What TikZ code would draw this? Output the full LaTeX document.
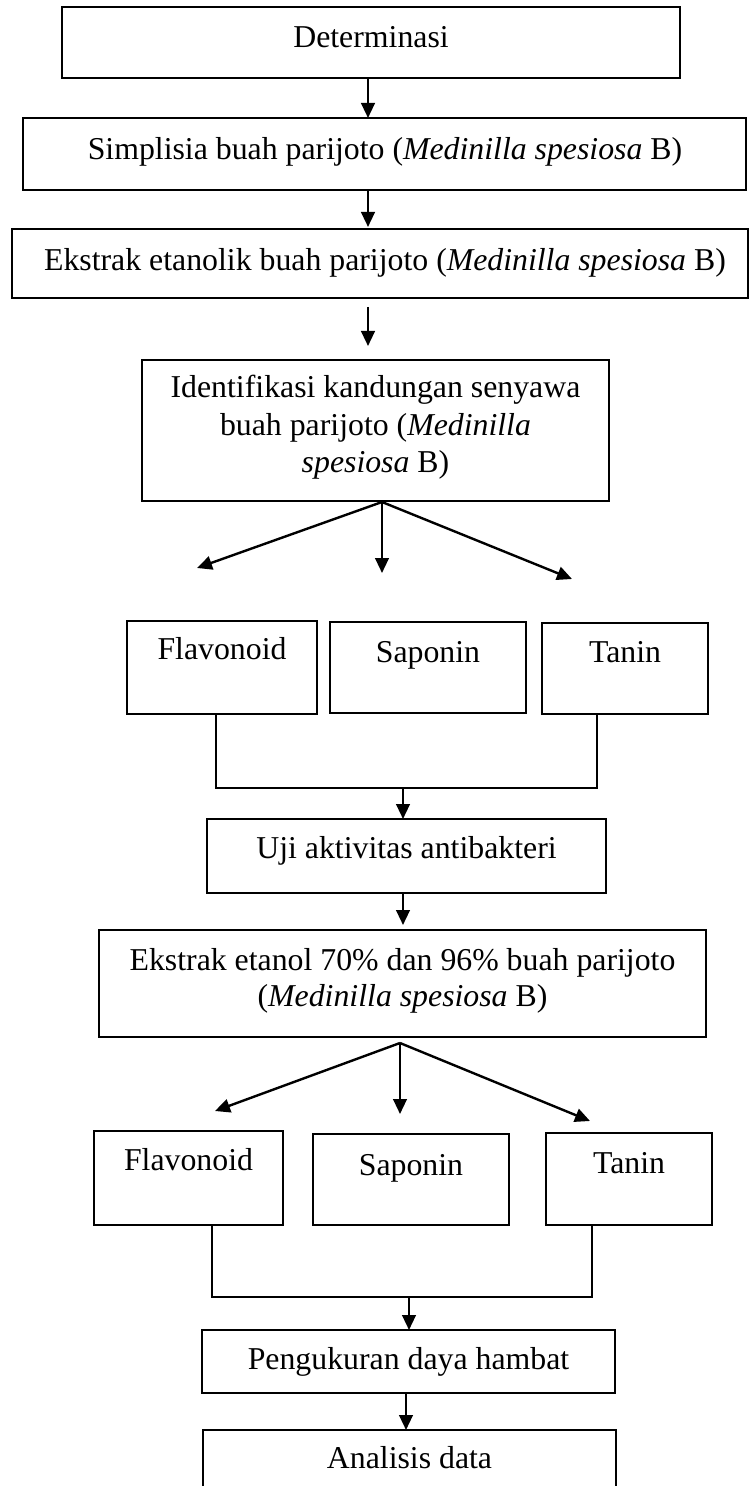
\documentclass[tikz,border=0pt]{standalone}
\usepackage{fontspec}
\setmainfont{Liberation Serif}
\usetikzlibrary{arrows.meta}
\tikzset{
  box/.style={draw, line width=0.85pt, inner sep=0pt, outer sep=0pt},
  lbl/.style={anchor=base, inner sep=0pt, outer sep=0pt, font=\fontsize{15.9}{18.5}\selectfont},
  arr/.style={line width=1.2pt, -{Triangle[length=7.5pt,width=6.8pt]}},
  ln/.style={line width=1pt},
}
\newcommand{\bx}[5]{\node[box, minimum width={(#4-#2)*0.5pt}, minimum height={(#5-#3)*0.5pt}] (#1) at ({(#2+#4)/2},{(#3+#5)/2}) {};}
\begin{document}
\begin{tikzpicture}[x=0.5pt,y=-0.5pt]
\useasboundingbox (0,0) rectangle (749,1486);
\fill[white] (0,0) rectangle (749,1486);
% boxes
\bx{b1}{62}{7}{680}{78}
\bx{b2}{23}{118}{746}{190}
\bx{b3}{12}{229}{748}{298}
\bx{b4}{142}{360}{609}{501}
\bx{f1}{127}{621}{317}{714}
\bx{s1}{330}{622}{526}{713}
\bx{n1}{542}{623}{708}{714}
\bx{b5}{207}{819}{606}{893}
\bx{b6}{99}{930}{706}{1037}
\bx{f2}{94}{1131}{283}{1225}
\bx{s2}{313}{1134}{509}{1225}
\bx{n2}{546}{1133}{712}{1225}
\bx{b7}{202}{1330}{615}{1393}
\bx{b8}{203}{1430}{616}{1505}
% texts
\node[lbl] (t1) at (371,48) {Determinasi};
\node[lbl] (t2) at (385,160) {Simplisia buah parijoto (\textit{Medinilla spesiosa} B)};
\node[lbl] (t3) at (385,271) {Ekstrak etanolik buah parijoto (\textit{Medinilla spesiosa} B)};
\node[lbl] (t4a) at (375.5,398) {Identifikasi kandungan senyawa};
\node[lbl] (t4b) at (375.5,436) {buah parijoto (\textit{Medinilla}};
\node[lbl] (t4c) at (375.5,473) {\textit{spesiosa} B)};
\node[lbl] (tf1) at (222,659) {Flavonoid};
\node[lbl] (ts1) at (428,662) {Saponin};
\node[lbl] (tn1) at (625,662) {Tanin};
\node[lbl] (t5) at (406.5,858) {Uji aktivitas antibakteri};
\node[lbl] (t6a) at (402.5,970) {Ekstrak etanol 70\% dan 96\% buah parijoto};
\node[lbl] (t6b) at (402.5,1006.5) {(\textit{Medinilla spesiosa} B)};
\node[lbl] (tf2) at (188.5,1170) {Flavonoid};
\node[lbl] (ts2) at (411,1175) {Saponin};
\node[lbl] (tn2) at (629,1173) {Tanin};
\node[lbl] (t7) at (408.5,1369) {Pengukuran daya hambat};
\node[lbl] (t8) at (409.5,1468) {Analisis data};
% coordinates
\coordinate (x1) at (368,0);
\coordinate (a2e) at (368,227);
\coordinate (a3s) at (368,307);
\coordinate (a3e) at (368,346);
\coordinate (fan1) at (382,502);
\coordinate (fa1) at (197,568);
\coordinate (fb1) at (382,573);
\coordinate (fc1) at (572,579);
\coordinate (c1l) at (216,788);
\coordinate (c1r) at (597,788);
\coordinate (c1m) at (403,788);
\coordinate (a5e) at (403,925);
\coordinate (fan2) at (400,1043);
\coordinate (fa2) at (215,1111);
\coordinate (fb2) at (400,1114);
\coordinate (fc2) at (590,1121);
\coordinate (c2l) at (211.5,1297);
\coordinate (c2r) at (592,1297);
\coordinate (c2m) at (409,1297);
\coordinate (x7) at (406,0);
% connectors
\draw[arr] (b1.south -| x1) -- (b2.north -| x1);
\draw[arr] (b2.south -| x1) -- (a2e);
\draw[arr] (a3s) -- (a3e);
\draw[arr] (fan1) -- (fa1);
\draw[arr] (fan1) -- (fb1);
\draw[arr] (fan1) -- (fc1);
\draw[ln] (f1.south -| c1l) -- (c1l) -- (c1r) -- (n1.south -| c1r);
\draw[arr] (c1m) -- (b5.north -| c1m);
\draw[arr] (b5.south -| c1m) -- (a5e);
\draw[arr] (fan2) -- (fa2);
\draw[arr] (fan2) -- (fb2);
\draw[arr] (fan2) -- (fc2);
\draw[ln] (f2.south -| c2l) -- (c2l) -- (c2r) -- (n2.south -| c2r);
\draw[arr] (c2m) -- (b7.north -| c2m);
\draw[arr] (b7.south -| x7) -- (b8.north -| x7);
\end{tikzpicture}
\end{document}
